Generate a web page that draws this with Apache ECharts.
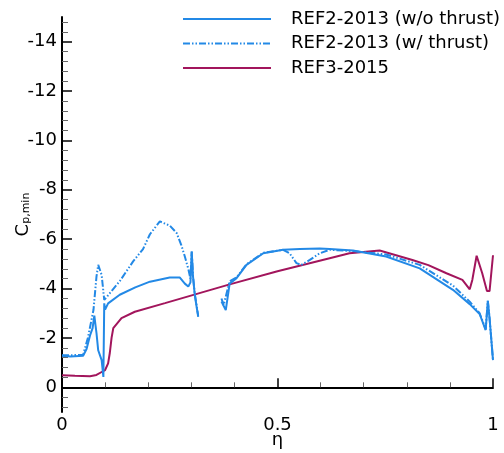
<!DOCTYPE html>
<html>
<head>
<meta charset="utf-8">
<script src="https://cdn.jsdelivr.net/npm/echarts@6/dist/echarts.min.js"></script>
<style>
  html, body { margin: 0; padding: 0; background: #fff; }
  #chart { width: 504px; height: 453px; }
</style>
</head>
<body>
<div id="chart"></div>
<script>
// series names
var names = ['REF2-2013 (w/o thrust)', 'REF2-2013 (w/ thrust)', 'REF3-2015'];

// REF2-2013 without thrust, [eta, Cp_min], two pieces (gap around the nacelle)
var woThrustA = [
  [0, -1.28], [0.02, -1.25], [0.049, -1.28], [0.057, -1.55], [0.065, -2.1], [0.071, -2.4],
  [0.075, -2.9], [0.08, -2.2], [0.084, -1.5], [0.092, -1.1], [0.096, -0.42], [0.098, -3.4],
  [0.100, -3.15], [0.107, -3.4], [0.134, -3.75], [0.170, -4.05], [0.204, -4.28], [0.250, -4.45],
  [0.273, -4.45], [0.285, -4.2], [0.293, -4.08], [0.298, -4.25], [0.301, -5.5], [0.304, -4.48],
  [0.308, -3.75], [0.316, -2.85]
];
var woThrustB = [
  [0.370, -3.47], [0.380, -3.13], [0.389, -4.2], [0.405, -4.42], [0.428, -4.96], [0.467, -5.43],
  [0.513, -5.57], [0.552, -5.6], [0.598, -5.62], [0.621, -5.6], [0.675, -5.54], [0.752, -5.3],
  [0.830, -4.82], [0.907, -3.95], [0.946, -3.37], [0.969, -2.97], [0.983, -2.32], [0.988, -3.5],
  [0.992, -2.8], [1.0, -1.1]
];

// REF2-2013 with thrust
var wThrustA = [
  [0, -1.3], [0.02, -1.3], [0.049, -1.32], [0.06, -2.0], [0.073, -3.13], [0.08, -4.48],
  [0.084, -4.96], [0.092, -4.55], [0.096, -4.48], [0.098, -3.54], [0.102, -3.6], [0.134, -4.3],
  [0.165, -5.1], [0.188, -5.6], [0.204, -6.2], [0.227, -6.72], [0.25, -6.55], [0.266, -6.25],
  [0.277, -5.75], [0.285, -5.3], [0.293, -4.8], [0.298, -4.4], [0.301, -5.5], [0.304, -4.5],
  [0.308, -3.8], [0.316, -2.9]
];
var wThrustB = [
  [0.370, -3.6], [0.375, -3.33], [0.389, -4.3], [0.405, -4.45], [0.428, -4.98], [0.467, -5.45],
  [0.513, -5.57], [0.528, -5.43], [0.544, -5.03], [0.555, -4.96], [0.575, -5.16], [0.598, -5.43],
  [0.621, -5.57], [0.675, -5.52], [0.752, -5.38], [0.830, -4.96], [0.907, -4.12], [0.946, -3.47],
  [0.969, -3.0], [0.983, -2.35], [0.988, -3.5], [0.992, -2.8], [1.0, -1.1]
];

// REF3-2015
var ref3 = [
  [0, -0.49], [0.03, -0.47], [0.065, -0.45], [0.08, -0.5], [0.092, -0.62], [0.1, -0.7],
  [0.107, -0.97], [0.111, -1.4], [0.115, -2.0], [0.119, -2.4], [0.123, -2.43], [0.138, -2.8],
  [0.169, -3.06], [0.239, -3.41], [0.389, -4.17], [0.5, -4.7], [0.621, -5.23], [0.667, -5.43],
  [0.737, -5.54], [0.813, -5.16], [0.85, -4.95], [0.892, -4.62], [0.929, -4.35], [0.946, -3.97],
  [0.952, -4.35], [0.962, -5.33], [0.975, -4.62], [0.986, -3.9], [0.992, -3.9], [1.0, -5.35]
];

// y ticks
var yMajorTicks = [-14, -12, -10, -8, -6, -4, -2, 0];
var yMinorTicks = [];
for (var t = -14.8; t <= 0.9; t += 0.4) {
  var v = Math.round(t * 10) / 10;
  if (Math.round(v * 10) % 20 !== 0) yMinorTicks.push(v);
}

var font = 'DejaVu Sans';
var blue = '#2389e6';
var maroon = '#a2155c';

var chartDom = document.getElementById('chart');
var myChart = echarts.init(chartDom);
var option = {
  animation: false,
  backgroundColor: '#fff',
  grid: { left: 62, right: 11, top: 17, bottom: 41, outerBoundsMode: 'none', containLabel: false },
  legend: {
    orient: 'vertical',
    left: 182,
    top: 9,
    padding: 0,
    itemWidth: 88,
    itemHeight: 20,
    itemGap: 4.5,
    data: names,
    itemStyle: { opacity: 0 },
    textStyle: { fontFamily: font, fontSize: 18, color: '#000', padding: [0, 0, 0, 15], lineHeight: 20 }
  },
  xAxis: {
    type: 'value',
    min: 0,
    max: 1,
    interval: 0.5,
    name: 'η',
    nameLocation: 'middle',
    nameGap: 19,
    nameMoveOverlap: false,
    nameTextStyle: { fontFamily: font, fontSize: 18, color: '#000' },
    axisLine: { lineStyle: { color: '#000', width: 2 } },
    axisTick: { inside: true, length: 9, lineStyle: { color: '#000', width: 1.5 } },
    minorTick: { show: true, splitNumber: 5, length: 5, lineStyle: { color: '#666', width: 1 } },
    axisLabel: { fontFamily: font, fontSize: 18, color: '#000', margin: 4 },
    splitLine: { show: false }
  },
  yAxis: [
    {
      type: 'value',
      inverse: true,
      min: -15,
      max: 1,
      name: 'C{s|p,min}',
      nameLocation: 'middle',
      nameRotate: 90,
      nameGap: 30,
      nameMoveOverlap: false,
      nameTextStyle: {
        fontFamily: font, fontSize: 18, color: '#000',
        rich: {
          s: { fontFamily: font, fontSize: 11, color: '#000', verticalAlign: 'bottom', lineHeight: 12, padding: [12, 0, 0, 0] }
        }
      },
      axisLine: { lineStyle: { color: '#000', width: 2 } },
      axisTick: { inside: true, length: 10, customValues: yMajorTicks, lineStyle: { color: '#000', width: 1.5 } },
      axisLabel: { customValues: yMajorTicks, fontFamily: font, fontSize: 18, color: '#000', margin: 5 },
      splitLine: { show: false }
    },
    {
      type: 'value',
      inverse: true,
      min: -15,
      max: 1,
      position: 'left',
      axisLine: { show: false },
      axisTick: { inside: true, length: 6, customValues: yMinorTicks, lineStyle: { color: '#666', width: 1 } },
      axisLabel: { show: false },
      splitLine: { show: false }
    }
  ],
  series: [
    {
      name: names[0],
      type: 'line',
      symbol: 'none',
      data: woThrustA.concat([['-', '-']], woThrustB),
      lineStyle: { color: blue, width: 2 },
      itemStyle: { color: blue },
      z: 3
    },
    {
      name: names[1],
      type: 'line',
      symbol: 'none',
      data: wThrustA.concat([['-', '-']], wThrustB),
      lineStyle: { color: blue, width: 2, type: [7, 2, 1.5, 2, 1.5, 2] },
      itemStyle: { color: blue },
      z: 2
    },
    {
      name: names[2],
      type: 'line',
      symbol: 'none',
      data: ref3,
      lineStyle: { color: maroon, width: 2 },
      itemStyle: { color: maroon },
      z: 1
    }
  ]
};
option && myChart.setOption(option);
</script>
</body>
</html>
